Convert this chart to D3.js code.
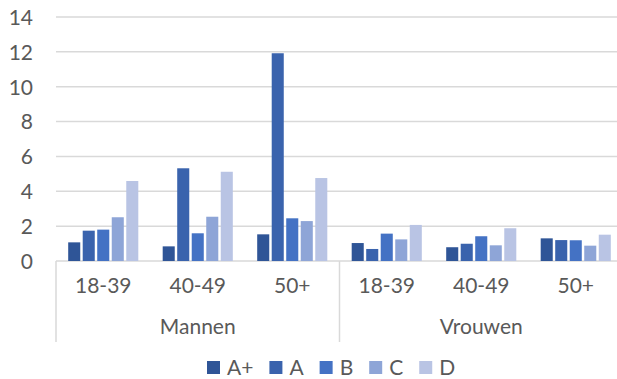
<!DOCTYPE html>
<html><head><meta charset="utf-8">
<script src="https://cdn.jsdelivr.net/npm/d3@7"></script>
<style>html,body{margin:0;padding:0;background:#fff;overflow:hidden}</style>
</head><body>
<svg id="c" width="617" height="379"></svg>
<script>
const groups = ["Mannen", "Vrouwen"];
const ageGroups = ["18-39", "40-49", "50+"];
const series = ["A+", "A", "B", "C", "D"];
const colors = ["#2F5597", "#3A63AD", "#4472C4", "#8EA5D7", "#B9C4E4"];
// values per category (Mannen 18-39, 40-49, 50+, Vrouwen 18-39, 40-49, 50+)
const valAplus = [1.07, 0.84, 1.53, 1.03, 0.79, 1.30];
const valA     = [1.74, 5.32, 11.92, 0.69, 0.99, 1.20];
const valB     = [1.80, 1.59, 2.45, 1.57, 1.42, 1.19];
const valC     = [2.51, 2.54, 2.29, 1.24, 0.90, 0.88];
const valD     = [4.59, 5.12, 4.76, 2.07, 1.88, 1.51];
const yTicks = [0, 2, 4, 6, 8, 10, 12, 14];

const seriesValues = [valAplus, valA, valB, valC, valD];
const cats = [];
groups.forEach(g => ageGroups.forEach(a => cats.push(g + "|" + a)));

const svg = d3.select("#c");
const font = "Lato, 'Noto Sans', sans-serif";
const textColor = "#595959";
const pLeft = 56, pRight = 623, pTop = 17, pBottom = 261;

const x0 = d3.scaleBand().domain(cats).range([pLeft, pRight]).padding(0);
const x1 = d3.scaleBand().domain(series).range([0, x0.bandwidth()]).paddingInner(0.17).paddingOuter(0.84);
const y = d3.scaleLinear().domain([0, 14]).range([pBottom, pTop]);

// gridlines
svg.append("g").selectAll("line").data(yTicks).join("line")
  .attr("x1", pLeft).attr("x2", pRight)
  .attr("y1", d => y(d)).attr("y2", d => y(d))
  .attr("stroke", "#d9d9d9").attr("stroke-width", 1.5);

// y axis labels
const yAxis = d3.axisLeft(y).tickValues(yTicks).tickSize(0).tickPadding(0);
const gy = svg.append("g").attr("transform", "translate(33,0)").call(yAxis);
gy.select(".domain").remove();
gy.selectAll("text").attr("font-family", font).attr("font-size", 21).attr("fill", textColor).attr("dy", "0.35em");

// bars
series.forEach((s, si) => {
  svg.append("g").selectAll("rect").data(cats.map((c, i) => ({c, v: seriesValues[si][i]}))).join("rect")
    .attr("x", d => x0(d.c) + x1(s))
    .attr("width", x1.bandwidth())
    .attr("y", d => y(d.v))
    .attr("height", d => y(0) - y(d.v))
    .attr("fill", colors[si]);
});

// vertical dividers
const divX = [pLeft, x0(cats[3]), pRight];
svg.append("g").selectAll("line").data(divX).join("line")
  .attr("x1", d => d).attr("x2", d => d).attr("y1", pBottom).attr("y2", 342)
  .attr("stroke", "#d9d9d9").attr("stroke-width", 1.5);

// category labels
svg.append("g").selectAll("text").data(cats).join("text")
  .attr("x", d => x0(d) + x0.bandwidth() / 2).attr("y", 286).attr("dy", "0.35em")
  .attr("text-anchor", "middle").attr("font-family", font).attr("font-size", 21).attr("fill", textColor)
  .text(d => d.split("|")[1]);

// group labels
svg.append("g").selectAll("text").data(groups).join("text")
  .attr("x", (g, i) => (x0(cats[i * 3]) + x0(cats[i * 3 + 2]) + x0.bandwidth()) / 2).attr("y", 327).attr("dy", "0.35em")
  .attr("text-anchor", "middle").attr("font-family", font).attr("font-size", 21).attr("fill", textColor)
  .text(d => d);

// legend
const lg = svg.append("g");
let lx = 207;
series.forEach((s, i) => {
  lg.append("rect").attr("x", lx).attr("y", 361).attr("width", 13).attr("height", 13).attr("fill", colors[i]);
  const t = lg.append("text").attr("x", lx + 20).attr("y", 367.5).attr("dy", "0.35em")
    .attr("font-family", font).attr("font-size", 21).attr("fill", textColor).text(s);
  lx += 20 + t.node().getComputedTextLength() + 16;
});
</script>
</body></html>
